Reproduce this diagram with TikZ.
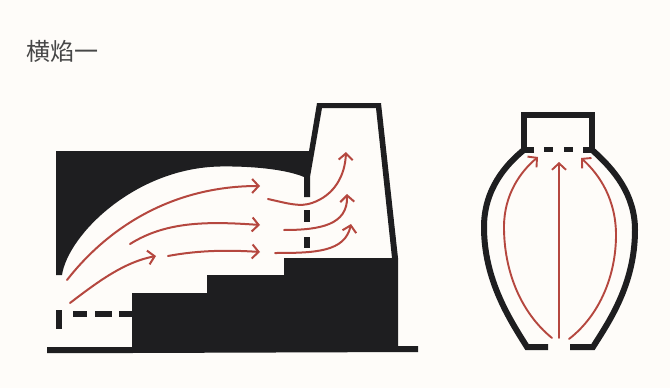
\documentclass[tikz,border=0pt]{standalone}
\usepackage{fontspec}
\newfontfamily\cjk{Noto Sans CJK TC}
\usetikzlibrary{arrows.meta}
\definecolor{kilnbg}{HTML}{FEFCF9}
\definecolor{kilnblack}{HTML}{1E1E20}
\definecolor{flowred}{HTML}{B5473F}
\tikzset{
  solidpart/.style={fill=kilnblack,draw=none},
  wall/.style={draw=kilnblack,line width=6pt,line cap=butt,line join=miter},
  flow/.style={draw=flowred,line width=2pt,line cap=round,-{Straight Barb[length=6.5pt,width=14pt,line width=2pt]}},
  flowplain/.style={draw=flowred,line width=1.9pt,line cap=round,-{Straight Barb[length=6.5pt,width=14pt,line width=1.9pt]}}
}
\begin{document}
\begin{tikzpicture}[x=1pt,y=-1pt]
\useasboundingbox (0,0) rectangle (670,388);
\fill[kilnbg] (0,0) rectangle (670,388);
\node[anchor=west,inner sep=0pt,text=black!72,font=\cjk\fontsize{24}{24}\selectfont] (title) at (26,51) {横焰一};
% roof mass
\fill[solidpart] (56,151) -- (309,151) -- (317,103) -- (381,103) -- (398,258) -- (392,258) -- (376,108) -- (322,108) -- (310,177) -- (310,197) -- (304,197) -- (304,177)
  .. controls (285,169) and (250,166) .. (220,166.5)
  .. controls (135,168) and (68,235) .. (62,275) -- (56,275) -- cycle;
% flue dashes
\fill[solidpart] (304,210) rectangle (310,222);
\fill[solidpart] (304,237) rectangle (310,248);
% stepped floor
\fill[solidpart] (284,258) -- (398,258) -- (398,346) -- (418,346) -- (418,352) -- (132,353) -- (47,353) -- (47,347) -- (132,347) -- (132,293) -- (207,293) -- (207,275) -- (284,275) -- cycle;
% fire mouth
\fill[solidpart] (56,310) rectangle (62,329);
\fill[solidpart] (73,311) rectangle (87,317);
\fill[solidpart] (95,311) rectangle (112,317);
\fill[solidpart] (119,311) rectangle (132,317);
% kiln flow
\draw[flow] (67,280) .. controls (110,225) and (175,186) .. (260,186);
\draw[flow] (130,244) .. controls (165,222) and (205,221) .. (260,225);
\draw[flow] (70,303) .. controls (100,280) and (125,262) .. (156,256);
\draw[flow] (168,256) .. controls (200,250) and (230,250) .. (260,252);
\draw[flow] (268,199) .. controls (290,204) and (300,207) .. (312,203) .. controls (335,195) and (345,175) .. (346,152);
\draw[flow] (284,230) .. controls (320,230) and (348,225) .. (347,194);
\draw[flow] (275,253) .. controls (315,253) and (345,252) .. (351,224);
% vase
\draw[wall] (534,149.5) -- (523.5,149.5) -- (523.5,115) -- (591.5,115) -- (591.5,149.5) -- (583,149.5);
\fill[solidpart] (544,147) rectangle (553,152);
\fill[solidpart] (564,147) rectangle (573,152);
\draw[wall] (548,347) -- (527,347) .. controls (510,320) and (484,280) .. (484,227) .. controls (484,190) and (505,165) .. (525,149);
\draw[wall] (570,347) -- (593,347) .. controls (608,323) and (635,285) .. (635,230) .. controls (635,195) and (615,170) .. (591,149);
\draw[flowplain] (552,338) .. controls (520,312) and (504,270) .. (504,227) .. controls (504,195) and (520,172) .. (538,157);
\draw[flowplain] (559,338) -- (559,162);
\draw[flowplain] (569,339) .. controls (600,315) and (616,275) .. (616,235) .. controls (616,200) and (600,175) .. (581,158);
\end{tikzpicture}
\end{document}
